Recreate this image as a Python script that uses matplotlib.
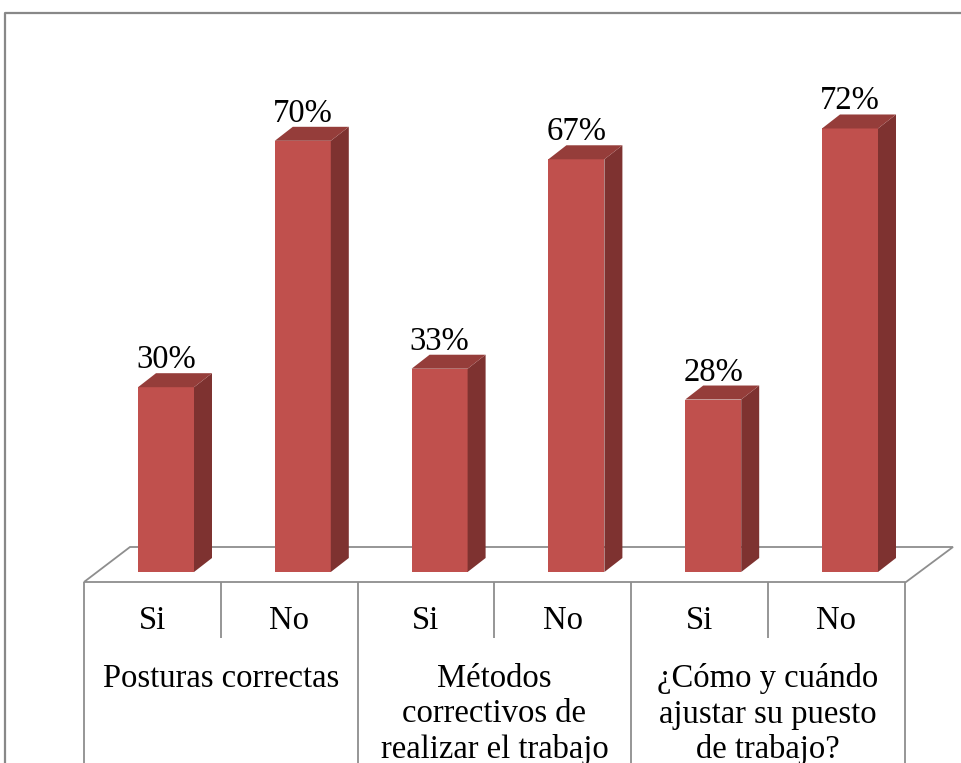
import matplotlib
matplotlib.use("Agg")
import matplotlib.pyplot as plt
from matplotlib.patches import Polygon

answers = ["Si", "No", "Si", "No", "Si", "No"]
groups = ["Posturas correctas", "Métodos\ncorrectivos de\nrealizar el trabajo",
          "¿Cómo y cuándo\najustar su puesto\nde trabajo?"]
values = [30, 70, 33, 67, 28, 72]

W, H = 961, 763
fig = plt.figure(figsize=(W / 100, H / 100), dpi=100)
ax = fig.add_axes([0, 0, 1, 1])
ax.set_axis_off()

# pixel geometry of the reference: category cell width and % scale
cell_px = 136.8
pct_px = 6.16
x0_px = 84.0
base_px = 572.0
ax.set_xlim(-x0_px / cell_px, (W - x0_px) / cell_px)
ax.set_ylim((base_px - H) / pct_px, base_px / pct_px)

def px_x(p):
    return p / cell_px

def px_y(p):
    return p / pct_px

front_c = "#C0504D"
side_c = "#7E3230"
top_c = "#953D3A"
line_c = "#8E8E8E"
font = ["Liberation Serif", "DejaVu Serif"]
fs = 23.5

# floor
f_front = -px_y(10)
f_back = px_y(25)
floor = Polygon([(0, f_front), (px_x(46), f_back), (px_x(869), f_back), (px_x(822), f_front)],
                closed=True, facecolor="white", edgecolor=line_c, lw=1.3, zorder=1)
ax.add_patch(floor)

# bars (3D look)
bw = px_x(56)
left_off = px_x(54)
dx = px_x(18)
dy = px_y(14)
for i, v in enumerate(values):
    xl = i + left_off
    xr = xl + bw
    ax.add_patch(Polygon([(xl, 0), (xr, 0), (xr, v), (xl, v)], closed=True,
                         facecolor=front_c, edgecolor="none", zorder=3))
    ax.add_patch(Polygon([(xr, 0), (xr + dx, dy), (xr + dx, v + dy), (xr, v)], closed=True,
                         facecolor=side_c, edgecolor="none", zorder=3))
    ax.add_patch(Polygon([(xl, v), (xr, v), (xr + dx, v + dy), (xl + dx, v + dy)], closed=True,
                         facecolor=top_c, edgecolor="none", zorder=3))
    ax.text((xl + xr) / 2, v + dy + px_y(5), f"{v}%", ha="center", va="baseline",
            fontsize=fs, family=font, color="black", zorder=4)

# axis table lines
ybot = (base_px - H) / pct_px
yshort = -px_y(66)
for k in range(len(answers) + 1):
    if k % 2 == 0:
        ax.plot([k, k], [f_front, ybot], color=line_c, lw=1.3, zorder=2, solid_capstyle="butt")
    else:
        ax.plot([k, k], [f_front, yshort], color=line_c, lw=1.3, zorder=2, solid_capstyle="butt")

for i, a in enumerate(answers):
    ax.text(i + 0.5, -px_y(57), a, ha="center", va="baseline", fontsize=fs, family=font)

line_gap = 35.5
for g, name in enumerate(groups):
    for j, line in enumerate(name.split("\n")):
        ax.text(2 * g + 1, -px_y(115 + j * line_gap), line, ha="center", va="baseline",
                fontsize=fs, family=font)

# outer frame
fx = 5 / W
fy = 1 - 13 / H
fig.add_artist(plt.Line2D([fx, fx, 1.0], [0, fy, fy], transform=fig.transFigure,
                          color="#888888", lw=1.6))

fig.savefig("out.png", dpi=100)
